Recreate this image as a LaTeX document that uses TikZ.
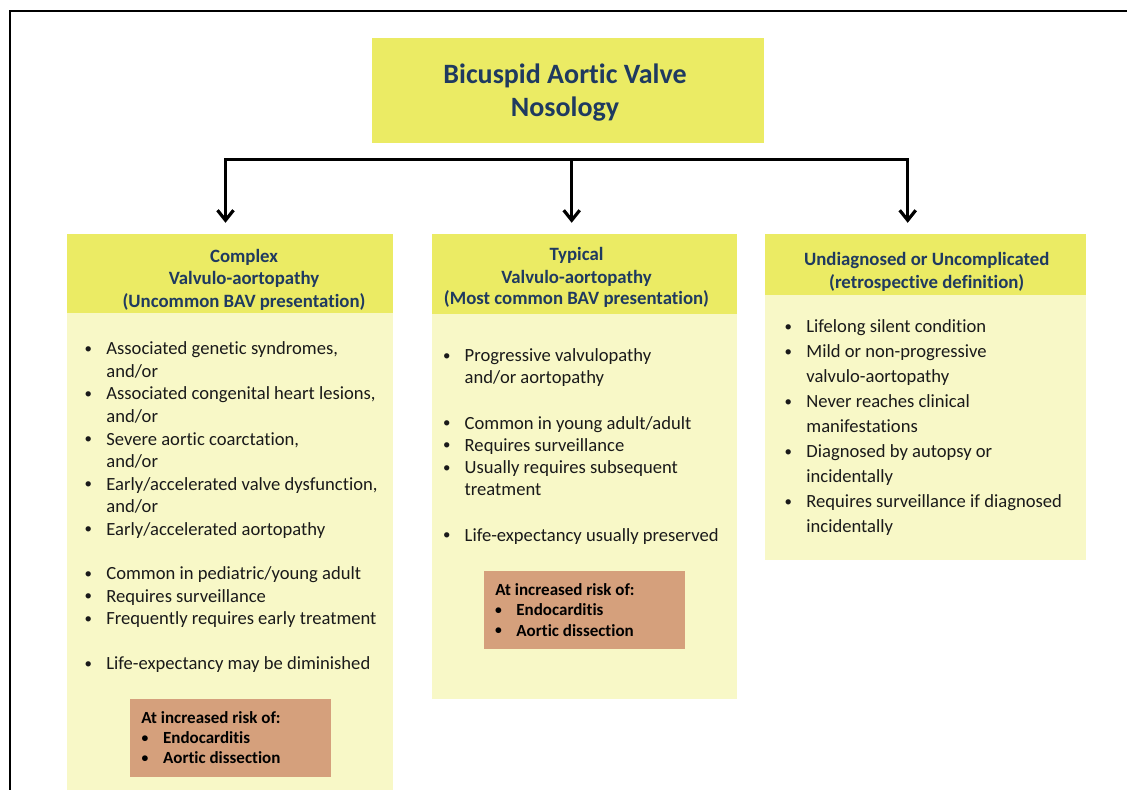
\documentclass[tikz,border=0pt]{standalone}
\usepackage{fontspec}
\setmainfont{Carlito}[Ligatures=NoCommon]
\usepackage{tikz}
\usetikzlibrary{arrows.meta}

\definecolor{headyellow}{HTML}{EBEB64}
\definecolor{bodyyellow}{HTML}{F8F8C7}
\definecolor{riskbrown}{HTML}{D5A07C}
\definecolor{navy}{HTML}{1F3A60}
\definecolor{ink}{HTML}{1A1A1A}
\newcommand{\bul}{\llap{\makebox[0pt]{\raisebox{0.15ex}{\scalebox{0.8}{\textbullet}}}\hspace{9pt}}}

\begin{document}
\begin{tikzpicture}[x=0.5pt, y=-0.5pt,
  panel/.style={anchor=north west, inner sep=0, outer sep=0},
  headbox/.style={panel, fill=headyellow},
  bodybox/.style={panel, fill=bodyyellow},
  riskbox/.style={panel, fill=riskbrown},
  titletxt/.style={anchor=base, inner sep=0, text=navy, font=\fontsize{14}{16}\selectfont\bfseries},
  headtxt/.style={anchor=base, inner sep=0, text=navy, font=\fontsize{9.4}{10}\selectfont\bfseries},
  itemtxt/.style={anchor=base west, inner sep=0, text=ink, font=\fontsize{9.3}{10}\selectfont},
  risktxt/.style={anchor=base west, inner sep=0, text=black, font=\fontsize{8.5}{10}\selectfont\bfseries},
  link/.style={line width=1.6pt},
  arrowdown/.style={-{Straight Barb[length=5pt,width=8pt]}, shorten >=5.6pt}]
  \useasboundingbox (0,0) rectangle (1127,790);
  \draw[line width=1pt] (10,790) -- (10,11) -- (1127,11);

  % --- top: the title ---
  \node[headbox, minimum width=196pt, minimum height=52.75pt] (nosology) at (372,38) {};
  \node[titletxt] (title1) at (565,83.3) {Bicuspid Aortic Valve};
  \node[titletxt] (title2) at (565,116.7) {Nosology};

  % --- boxes of the three columns ---
  \node[headbox, minimum width=163.25pt, minimum height=39.5pt] (cplxhead) at (66.5,234) {};
  \node[bodybox, minimum width=163.25pt, minimum height=238.5pt] (cplxbody) at (66.5,313) {};
  \node[headbox, minimum width=152.5pt, minimum height=40.25pt] (typhead) at (431.5,234) {};
  \node[bodybox, minimum width=152.5pt, minimum height=192pt] (typbody) at (431.5,314.5) {};
  \node[headbox, minimum width=160.5pt, minimum height=30.5pt] (undhead) at (764.5,234) {};
  \node[bodybox, minimum width=160.5pt, minimum height=132.5pt] (undbody) at (764.5,295) {};

  % --- the branching arrows ---
  \coordinate (barl) at (225.5,159.3);
  \coordinate (barm) at (571.7,159.3);
  \coordinate (barr) at (907.7,159.3);
  \draw[link, arrowdown] (barm) -- (barl) -- (barl |- cplxhead.north);
  \draw[link, arrowdown] (barm) -- (barr) -- (barr |- undhead.north);
  \draw[link, arrowdown] (barm) -- (barm |- typhead.north);

  % --- left: complex ---
  \node[headtxt] (cplxh1) at (244,262.3) {Complex};
  \node[headtxt] (cplxh2) at (244,285) {Valvulo-aortopathy};
  \node[headtxt] (cplxh3) at (244,307.3) {(Uncommon BAV presentation)};
  \node[itemtxt] (cplx1) at (106,355) {\bul Associated genetic syndromes,};
  \node[itemtxt] (cplx2) at (106,377.5) {and/or};
  \node[itemtxt] (cplx3) at (106,400) {\bul Associated congenital heart lesions,};
  \node[itemtxt] (cplx4) at (106,422.5) {and/or};
  \node[itemtxt] (cplx5) at (106,445) {\bul Severe aortic coarctation,};
  \node[itemtxt] (cplx6) at (106,467.5) {and/or};
  \node[itemtxt] (cplx7) at (106,490) {\bul Early/accelerated valve dysfunction,};
  \node[itemtxt] (cplx8) at (106,512.5) {and/or};
  \node[itemtxt] (cplx9) at (106,535) {\bul Early/accelerated aortopathy};
  \node[itemtxt] (cplx10) at (106,579.5) {\bul Common in pediatric/young adult};
  \node[itemtxt] (cplx11) at (106,602) {\bul Requires surveillance};
  \node[itemtxt] (cplx12) at (106,624.5) {\bul Frequently requires early treatment};
  \node[itemtxt] (cplx13) at (106,669.5) {\bul Life-expectancy may be diminished};
  \node[riskbox, minimum width=100.5pt, minimum height=39pt] (cplxrisk) at (129.5,699) {};
  \node[risktxt] (cplxr1) at (141,723.3) {At increased risk of:};
  \node[risktxt] (cplxr2) at (162.7,743.3) {\bul Endocarditis};
  \node[risktxt] (cplxr3) at (162.7,763.3) {\bul Aortic dissection};

  % --- middle: typical ---
  \node[headtxt] (typh1) at (576.5,260.7) {Typical};
  \node[headtxt] (typh2) at (576.5,283.3) {Valvulo-aortopathy};
  \node[headtxt] (typh3) at (576.5,305) {(Most common BAV presentation)};
  \node[itemtxt] (typ1) at (464.3,361.7) {\bul Progressive valvulopathy};
  \node[itemtxt] (typ2) at (464.3,384) {and/or aortopathy};
  \node[itemtxt] (typ3) at (464.3,429) {\bul Common in young adult/adult};
  \node[itemtxt] (typ4) at (464.3,451.3) {\bul Requires surveillance};
  \node[itemtxt] (typ5) at (464.3,473.5) {\bul Usually requires subsequent};
  \node[itemtxt] (typ6) at (464.3,495.8) {treatment};
  \node[itemtxt] (typ7) at (464.3,541) {\bul Life-expectancy usually preserved};
  \node[riskbox, minimum width=100.5pt, minimum height=39pt] (typrisk) at (483.5,571) {};
  \node[risktxt] (typr1) at (495,595) {At increased risk of:};
  \node[risktxt] (typr2) at (516,615.7) {\bul Endocarditis};
  \node[risktxt] (typr3) at (516,636) {\bul Aortic dissection};

  % --- right: undiagnosed ---
  \node[headtxt] (undh1) at (926.7,265.7) {Undiagnosed or Uncomplicated};
  \node[headtxt] (undh2) at (926.7,288.3) {(retrospective definition)};
  \node[itemtxt] (und1) at (806,332.7) {\bul Lifelong silent condition};
  \node[itemtxt] (und2) at (806,357.7) {\bul Mild or non-progressive};
  \node[itemtxt] (und3) at (806,382.7) {valvulo-aortopathy};
  \node[itemtxt] (und4) at (806,407.7) {\bul Never reaches clinical};
  \node[itemtxt] (und5) at (806,432.7) {manifestations};
  \node[itemtxt] (und6) at (806,457.7) {\bul Diagnosed by autopsy or};
  \node[itemtxt] (und7) at (806,482.7) {incidentally};
  \node[itemtxt] (und8) at (806,507.7) {\bul Requires surveillance if diagnosed};
  \node[itemtxt] (und9) at (806,532.7) {incidentally};
\end{tikzpicture}
\end{document}
